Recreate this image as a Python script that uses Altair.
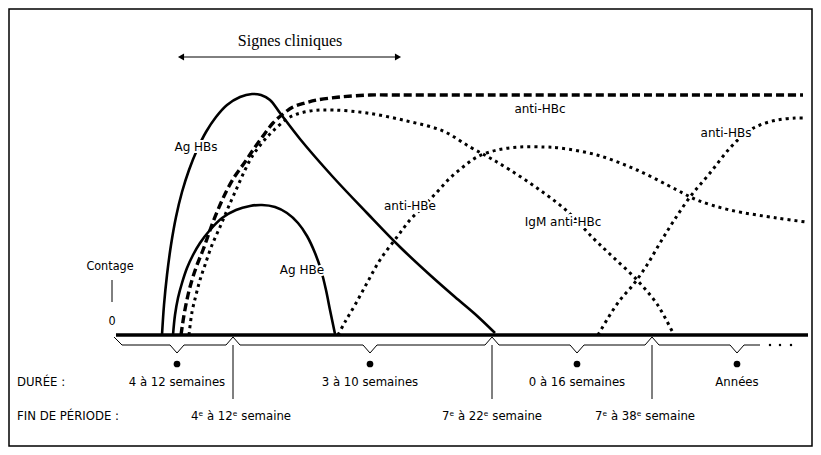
import altair as alt
import pandas as pd

# ---------- data (x = time position, level = titre above the baseline) ----------
agHBs_x = [162,164,167,171,176,182,189,197,206,216,227,240,252,261,270,280,300,333,367,400,430,455,475,495]
agHBs_y = [0,30,60,90,118,143,165,185,203,218,230,238,241,240,235,222,196,158,122,88,60,38,21,2]

agHBe_x = [173,175,178,182,187,193,200,210,222,236,250,262,275,287,298,307,315,321,326,330,335]
agHBe_y = [0,20,37,52,67,80,92,105,117,125,129,130,128,122,112,99,82,65,45,25,1]

antiHBc_x = [181,184,188,192,197,203,208,213,220,227,235,245,253,263,273,283,293,305,317,340,370,400,803]
antiHBc_y = [0,20,40,55,70,85,99,113,130,145,159,173,185,199,212,221,228,232,235,238,240,240,240]

igm_x = [189,192,196,200,205,212,220,228,236,245,253,262,272,290,310,333,367,407,443,470,490,510,537,567,593,613,637,657,673]
igm_y = [0,23,40,55,70,90,108,127,145,165,180,192,203,218,224,225,222,214,204,188,177,165,147,124,97,78,55,31,2]

antiHBe_x = [338,345,355,367,380,397,410,423,437,450,463,477,497,520,545,560,597,637,677,697,730,777,806]
antiHBe_y = [0,13,30,52,75,98,115,128,143,157,168,178,185,188,188,187,180,165,145,135,125,117,113]

antiHBs_x = [598,608,620,633,647,660,673,690,710,730,747,760,777,795,806]
antiHBs_y = [0,17,35,50,70,92,113,138,162,187,203,210,215,217,217]

curve_names = ["Ag HBs", "Ag HBe", "anti-HBc", "IgM anti-HBc", "anti-HBe", "anti-HBs"]
curve_label_x = [196, 302, 540, 563, 410, 726]
curve_label_y = [188, 65, 226, 113, 129, 202]

# time line: period midpoints and boundaries
period_mid_x = [177, 370, 577, 737]
period_end_x = [233, 492, 652]
duree_labels = ["4 à 12 semaines", "3 à 10 semaines", "0 à 16 semaines", "Années"]
fin_labels = ["4ᵉ à 12ᵉ semaine", "7ᵉ à 22ᵉ semaine", "7ᵉ à 38ᵉ semaine"]
fin_label_x = [241, 492, 645]

axis_start, axis_end = 116, 808
brace_end = 760
trail_x = [770, 780, 791]
clin_start, clin_end = 177, 402

# ---------- tables ----------
def curve_df(name, xs, ys):
    return pd.DataFrame({"serie": name, "x": xs, "y": ys, "o": range(len(xs))})

solid = pd.concat([curve_df("Ag HBs", agHBs_x, agHBs_y), curve_df("Ag HBe", agHBe_x, agHBe_y)])
dashed = curve_df("anti-HBc", antiHBc_x, antiHBc_y)
dotted = pd.concat([curve_df("IgM anti-HBc", igm_x, igm_y),
                    curve_df("anti-HBe", antiHBe_x, antiHBe_y),
                    curve_df("anti-HBs", antiHBs_x, antiHBs_y)])

BRACE, VDEPTH, PEAK = -10, -18, -2
bx, by = [axis_start - 2, axis_start + 6], [PEAK, BRACE]
for i, m in enumerate(period_mid_x):
    bx += [m - 7, m, m + 7]
    by += [BRACE, VDEPTH, BRACE]
    if i < len(period_end_x):
        e = period_end_x[i]
        bx += [e - 7, e, e + 7]
        by += [BRACE, PEAK, BRACE]
bx.append(brace_end)
by.append(BRACE)
brace = pd.DataFrame({"x": bx, "y": by, "o": range(len(bx))})

DOT_Y, DUREE_Y, VLINE_Y, FIN_Y = -29, -47, -64, -81

X = lambda f="x": alt.X(f"{f}:Q", scale=alt.Scale(domain=[8, 813]), axis=None)
Y = lambda f="y": alt.Y(f"{f}:Q", scale=alt.Scale(domain=[-112, 327]), axis=None)

COND = "DejaVu Sans Condensed, Liberation Sans Narrow, DejaVu Sans"
SANS = "DejaVu Sans"

layers = []

# frame
layers.append(alt.Chart(pd.DataFrame({"x": [9], "x2": [812], "y": [326], "y2": [-111]})).mark_rect(
    fill=None, stroke="black", strokeWidth=1.5).encode(x=X(), x2="x2:Q", y=Y(), y2="y2:Q"))

# clinical signs arrow
layers.append(alt.Chart(pd.DataFrame({"x": [clin_start + 4], "x2": [clin_end - 4], "y": [278]})).mark_rule(
    color="black", strokeWidth=1).encode(x=X(), x2="x2:Q", y=Y()))
heads = pd.DataFrame({"x": [clin_start + 4, clin_end - 4], "y": [278, 278], "s": ["triangle-left", "triangle-right"]})
layers.append(alt.Chart(heads).mark_point(filled=True, color="black", size=50, opacity=1).encode(
    x=X(), y=Y(), shape=alt.Shape("s:N", scale=None)))
layers.append(alt.Chart(pd.DataFrame({"t": ["Signes cliniques"], "x": [290], "y": [294]})).mark_text(
    font="Liberation Serif", fontSize=16, baseline="middle", align="center").encode(x=X(), y=Y(), text="t:N"))

# curves
layers.append(alt.Chart(solid).mark_line(color="black", strokeWidth=2.6, interpolate="catmull-rom").encode(
    x=X(), y=Y(), detail="serie:N", order="o:Q"))
layers.append(alt.Chart(dashed).mark_line(color="black", strokeWidth=3.4, strokeDash=[8, 4],
                                          interpolate="catmull-rom").encode(x=X(), y=Y(), detail="serie:N", order="o:Q"))
layers.append(alt.Chart(dotted).mark_line(color="black", strokeWidth=3, strokeDash=[3, 4],
                                          interpolate="catmull-rom").encode(x=X(), y=Y(), detail="serie:N", order="o:Q"))

# curve labels with a white halo that interrupts the curves
labels = pd.DataFrame({"t": curve_names, "x": curve_label_x, "y": curve_label_y})
layers.append(alt.Chart(labels).mark_text(font=SANS, fontSize=12, baseline="middle", align="center",
                                          stroke="white", strokeWidth=4, color="white").encode(x=X(), y=Y(), text="t:N"))
layers.append(alt.Chart(labels).mark_text(font=SANS, fontSize=12, baseline="middle", align="center",
                                          color="black").encode(x=X(), y=Y(), text="t:N"))

# baseline
layers.append(alt.Chart(pd.DataFrame({"x": [axis_start], "x2": [axis_end], "y": [0]})).mark_rule(
    color="black", strokeWidth=3.4).encode(x=X(), x2="x2:Q", y=Y()))

# Contage marker
layers.append(alt.Chart(pd.DataFrame({"x": [112], "y": [55], "y2": [33]})).mark_rule(
    color="black", strokeWidth=1).encode(x=X(), y=Y(), y2="y2:Q"))
layers.append(alt.Chart(pd.DataFrame({"t": ["Contage", "0"], "x": [110, 112], "y": [69, 14]})).mark_text(
    font=COND, fontSize=12.5, baseline="middle", align="center").encode(x=X(), y=Y(), text="t:N"))

# brace, dots, period boundaries
layers.append(alt.Chart(brace).mark_line(color="black", strokeWidth=1).encode(x=X(), y=Y(), order="o:Q"))
layers.append(alt.Chart(pd.DataFrame({"x": trail_x, "y": [BRACE] * 3})).mark_point(
    filled=True, color="black", size=6, opacity=1).encode(x=X(), y=Y()))
layers.append(alt.Chart(pd.DataFrame({"x": period_mid_x, "y": [DOT_Y] * 4})).mark_point(
    filled=True, color="black", size=45, opacity=1).encode(x=X(), y=Y()))
layers.append(alt.Chart(pd.DataFrame({"x": period_end_x, "y": [BRACE] * 3, "y2": [VLINE_Y] * 3})).mark_rule(
    color="black", strokeWidth=1).encode(x=X(), y=Y(), y2="y2:Q"))

# row labels
layers.append(alt.Chart(pd.DataFrame({"t": ["DURÉE :", "FIN DE PÉRIODE :"], "x": [17, 17], "y": [DUREE_Y, FIN_Y]})).mark_text(
    font=COND, fontSize=13, baseline="middle", align="left").encode(x=X(), y=Y(), text="t:N"))
layers.append(alt.Chart(pd.DataFrame({"t": duree_labels, "x": period_mid_x, "y": [DUREE_Y] * 4})).mark_text(
    font=COND, fontSize=13, baseline="middle", align="center").encode(x=X(), y=Y(), text="t:N"))
layers.append(alt.Chart(pd.DataFrame({"t": fin_labels, "x": fin_label_x, "y": [FIN_Y] * 3})).mark_text(
    font=COND, fontSize=13, baseline="middle", align="center").encode(x=X(), y=Y(), text="t:N"))

chart = alt.layer(*layers).properties(
    width=805, height=439, padding=0, autosize=alt.AutoSizeParams(type="none"), background="white"
).configure_view(stroke=None)

chart.save("out.html", embed_options={"renderer": "svg", "actions": False})
